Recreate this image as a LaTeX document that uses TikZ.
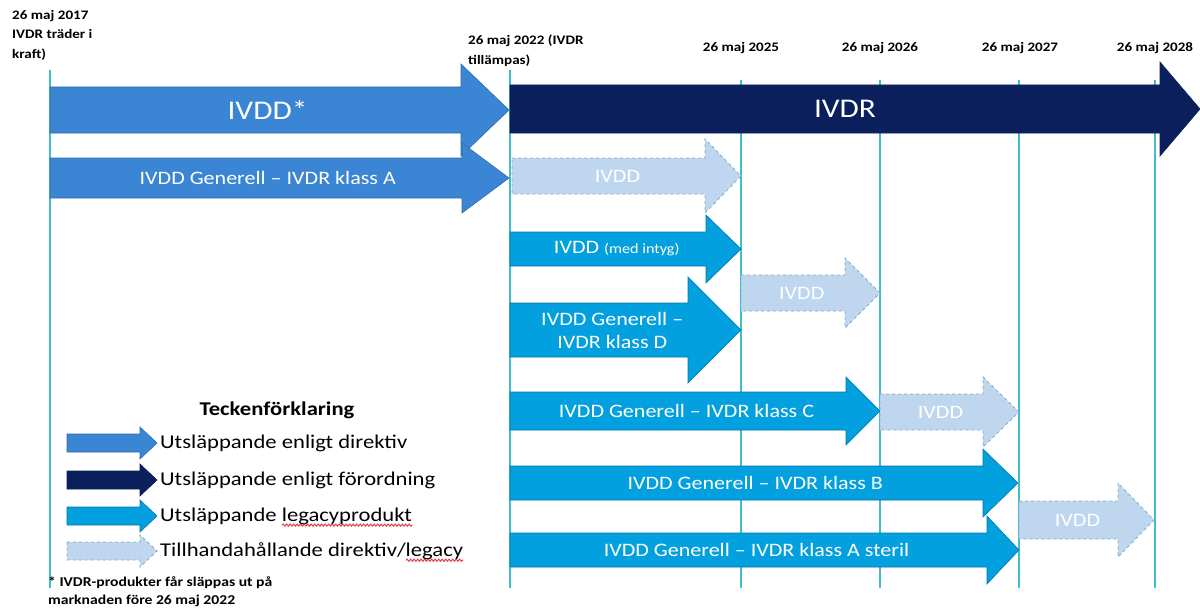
\documentclass[tikz,border=0pt]{standalone}
\usepackage{fontspec}
\setmainfont{Carlito}[FakeStretch=1.16]
\usetikzlibrary{decorations.pathmorphing}
\definecolor{dirblue}{RGB}{59,134,212}
\definecolor{regnavy}{RGB}{10,31,92}
\definecolor{legcyan}{RGB}{3,160,224}
\definecolor{trfill}{RGB}{190,214,238}
\definecolor{trline}{RGB}{140,165,195}
\definecolor{tline}{RGB}{64,190,206}
\definecolor{spellred}{RGB}{225,60,70}
\newlength\wordk
\newlength\wordl
\begin{document}
\settowidth\wordk{\fontsize{19.5}{22}\selectfont legacyprodukt}%
\settowidth\wordl{\fontsize{19.5}{22}\selectfont legacy}%
\begin{tikzpicture}[x=1pt,y=-1pt,line join=miter,
  dir/.style={fill=dirblue,draw=dirblue!80!black,line width=0.6pt},
  reg/.style={fill=regnavy,draw=regnavy,line width=0.6pt},
  leg/.style={fill=legcyan,draw=legcyan!75!black,line width=0.6pt},
  tr/.style={fill=trfill,draw=trline,dashed,line width=0.8pt},
  lbl/.style={text=white,font=\fontsize{19}{23}\selectfont,align=center,inner sep=0pt},
  big/.style={lbl,font=\fontsize{27}{30}\selectfont},
  date/.style={font=\bfseries\fontsize{13}{19.5}\selectfont,inner sep=0pt},
  year/.style={draw=tline,line width=1.6pt},
  keytext/.style={font=\fontsize{19.5}{22}\selectfont,anchor=west,inner sep=0pt},
  spell/.style={draw=spellred,line width=1pt,decorate,decoration={snake,amplitude=1pt,segment length=3.5pt}}]
\useasboundingbox (0,0) rectangle (1200,610);
% year lines
\foreach \xl/\yt in {50/70,510/70,741/80,880/80,1019/80,1155/80}
  \draw[year] (\xl,\yt) -- (\xl,588);
% time line arrows: name/start/head start/tip/centre/body half/head half/style/font/text
\foreach \nm/\xa/\xh/\xb/\yc/\bw/\hw/\st/\ft/\tx in {
  ivdd/50/461/509/110/23/46/dir/big/IVDD*,
  ivdr/510/1160/1200/109/24/47/reg/big/IVDR,
  genA/50/462/509/178/20/35/dir/lbl/IVDD Generell – IVDR klass A,
  trA/512/705/741/176/18/37/tr/lbl/IVDD,
  intyg/510/706/741/249/17/34/leg/lbl/{IVDD {\fontsize{14}{16}\selectfont(med intyg)}},
  trD/741/845/880/293/18/35/tr/lbl/IVDD,
  genD/510/688/741/330/27/53/leg/lbl/{IVDD Generell –\\IVDR klass D},
  genC/510/846/880/411/19/34/leg/lbl/IVDD Generell – IVDR klass C,
  trC/880/983/1019/412/18/35/tr/lbl/IVDD,
  genB/510/983/1018/483/17/34/leg/lbl/IVDD Generell – IVDR klass B,
  trB/1019/1118/1154/520/19/37/tr/lbl/IVDD,
  genAs/510/987/1019/550/17/34/leg/lbl/IVDD Generell – IVDR klass A steril}{
  \draw[\st] (\xa,\yc-\bw) -- (\xh,\yc-\bw) -- (\xh,\yc-\hw) -- (\xb,\yc)
    -- (\xh,\yc+\hw) -- (\xh,\yc+\bw) -- (\xa,\yc+\bw) -- cycle;
  \node[\ft] (\nm) at ({(\xa+(\xh+\xb)/2)/2},\yc) {\tx};
}
% dates
\node[date,align=left,anchor=north west] (d17) at (12,10) {26 maj 2017\\IVDR träder i\\kraft)};
\node[date,align=left,anchor=north west] (d22) at (468,35) {26 maj 2022 (IVDR\\tillämpas)};
\foreach \nm/\xl/\yr in {d25/741/2025,d26/880/2026,d27/1020/2027,d28/1155/2028}
  \node[date] (\nm) at (\xl,48) {26 maj \yr};
% legend
\node[font=\bfseries\fontsize{19.5}{22}\selectfont,inner sep=0pt] (key) at (277,410) {Teckenförklaring};
\foreach \nm/\yc/\st/\tx in {k1/443/dir/Utsläppande enligt direktiv,
  k2/480/reg/Utsläppande enligt förordning,
  k3/516/leg/Utsläppande legacyprodukt,
  k4/551/tr/{Tillhandahållande direktiv/legacy}}{
  \draw[\st] (67,\yc-9) -- (140,\yc-9) -- (140,\yc-16) -- (157,\yc)
    -- (140,\yc+16) -- (140,\yc+9) -- (67,\yc+9) -- cycle;
  \node[keytext] (\nm) at (160,\yc) {\tx};
}
\coordinate (s3) at ([yshift=-4pt]k3.base east);
\coordinate (s4) at ([yshift=-4pt]k4.base east);
\draw[spell] ([xshift=-\wordk]s3) -- (s3);
\draw[spell] ([xshift=-\wordl]s4) -- (s4);
% footnote
\node[font=\bfseries\fontsize{13.5}{18}\selectfont,align=left,anchor=north west,inner sep=0pt] (note)
  at (48,577) {* IVDR-produkter får släppas ut på\\marknaden före 26 maj 2022};
\end{tikzpicture}
\end{document}
